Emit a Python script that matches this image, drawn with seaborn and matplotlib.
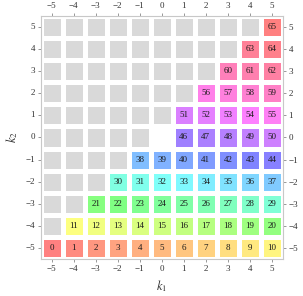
import numpy as np
import pandas as pd
import matplotlib
matplotlib.use('Agg')
import matplotlib.pyplot as plt
from matplotlib.colors import ListedColormap
import seaborn as sns

# axis values (columns: k1, rows top to bottom: k2)
k1 = [-5, -4, -3, -2, -1, 0, 1, 2, 3, 4, 5]
k2 = [5, 4, 3, 2, 1, 0, -1, -2, -3, -4, -5]

# cell numbers, G = grey (no number)
G = None
row_p5 = [G, G, G, G, G, G, G, G, G, G, 65]
row_p4 = [G, G, G, G, G, G, G, G, G, 63, 64]
row_p3 = [G, G, G, G, G, G, G, G, 60, 61, 62]
row_p2 = [G, G, G, G, G, G, G, 56, 57, 58, 59]
row_p1 = [G, G, G, G, G, G, 51, 52, 53, 54, 55]
row_0 = [G, G, G, G, G, G, 46, 47, 48, 49, 50]
row_m1 = [G, G, G, G, 38, 39, 40, 41, 42, 43, 44]
row_m2 = [G, G, G, 30, 31, 32, 33, 34, 35, 36, 37]
row_m3 = [G, G, 21, 22, 23, 24, 25, 26, 27, 28, 29]
row_m4 = [G, 11, 12, 13, 14, 15, 16, 17, 18, 19, 20]
row_m5 = [0, 1, 2, 3, 4, 5, 6, 7, 8, 9, 10]
rows = [row_p5, row_p4, row_p3, row_p2, row_p1, row_0,
        row_m1, row_m2, row_m3, row_m4, row_m5]

# cells left empty (k1, k2)
blank_cells = [(0, 0)]

sns.set_theme(style='white')
plt.rcParams['font.family'] = ['Liberation Serif', 'DejaVu Serif']
plt.rcParams['mathtext.fontset'] = 'stix'

codes = np.array([[0 if v is None else v + 1 for v in r] for r in rows], dtype=float)
mask = np.zeros(codes.shape, dtype=bool)
for a, b in blank_cells:
    mask[k2.index(b), k1.index(a)] = True

fmt_tick = lambda v: str(v).replace('-', '\u2212')
df = pd.DataFrame(codes, index=[fmt_tick(v) for v in k2],
                  columns=[fmt_tick(v) for v in k1])

# hue runs once round the wheel from 0 to 65
hues = sns.hls_palette(65, h=0, l=0.75, s=1.0)
cmap = ListedColormap(['#d9d9d9'] + hues + [hues[0]])

fig = plt.figure(figsize=(3.03, 2.96), dpi=100)
ax = fig.add_axes([0.134, 0.125, 0.800, 0.821])
sns.heatmap(df, ax=ax, cmap=cmap, vmin=-0.5, vmax=66.5, mask=mask,
            cbar=False, linewidths=3.3, linecolor='white')

# numbers in the cells
for i, r in enumerate(rows):
    for j, v in enumerate(r):
        if v is not None and not mask[i, j]:
            ax.text(j + 0.5, i + 0.5, str(v), ha='center', va='center',
                    fontsize=6.5, color='#1a1a1a', zorder=5)

for s in ax.spines.values():
    s.set_visible(True)
    s.set_color('#c8c8c8')
    s.set_linewidth(0.8)

ax.tick_params(axis='both', direction='inout', length=4, width=0.6, color='#888888',
               labelsize=6.5, labelcolor='#333333', pad=2, labelrotation=0,
               top=True, bottom=True, left=True, right=True,
               labeltop=True, labelbottom=True, labelleft=True, labelright=True)

ax.set_xlabel('$k_1$', fontsize=9, color='#333333', labelpad=4)
ax.set_ylabel('$k_2$', fontsize=9, color='#333333', labelpad=4)

fig.savefig('out.png', dpi=100)
